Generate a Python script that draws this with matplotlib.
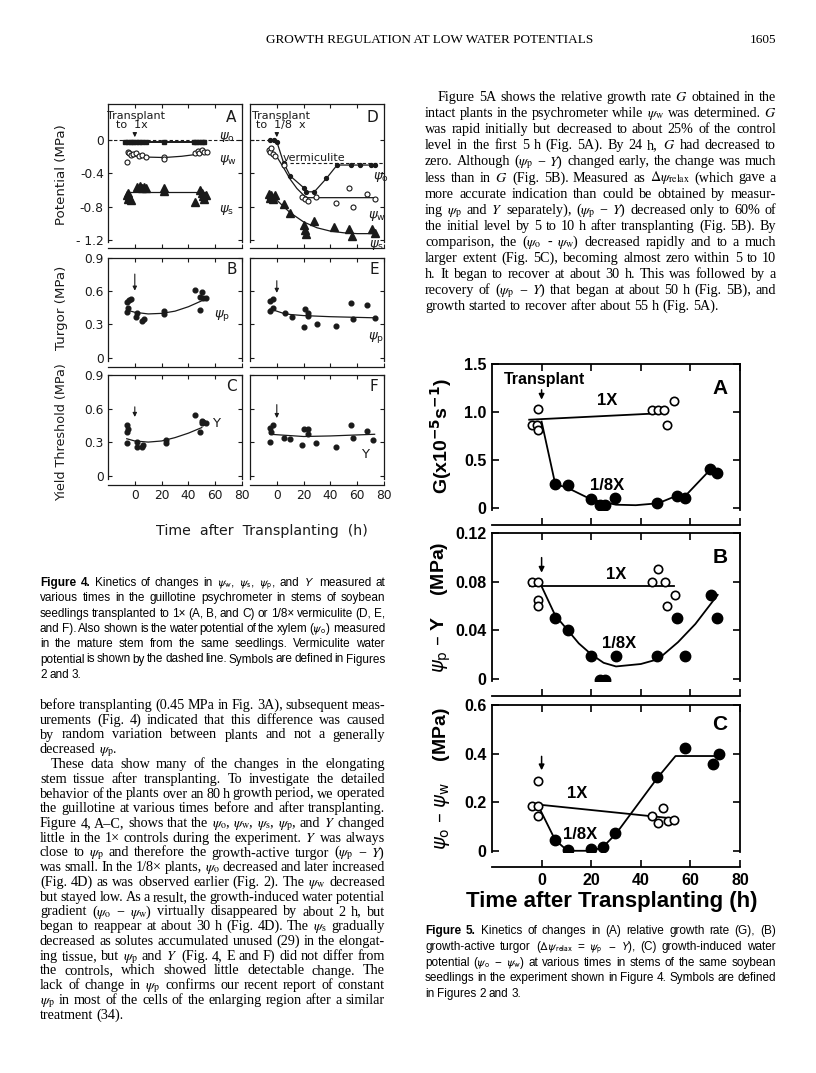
import matplotlib
matplotlib.use("Agg")
import matplotlib.pyplot as plt

W, H = 816, 1073

# ---------------- Figure 4 data (time h, value MPa) ----------------
# panel A, 1x
A_po_t = [-7, -5, -3, -1, 1, 3, 5, 8, 22, 44, 46, 48, 50, 52]
A_po_v = [-0.02, -0.02, -0.02, -0.02, -0.02, -0.02, -0.02, -0.02, -0.02, -0.02, -0.02, -0.02, -0.02, -0.02]
A_pw_t = [-6, -5, -4, -3, -1, 1, 3, 5, 8, 22, 22, 45, 47, 48, 50, 52, 54]
A_pw_v = [-0.26, -0.14, -0.16, -0.18, -0.17, -0.16, -0.19, -0.18, -0.20, -0.20, -0.23, -0.15, -0.13, -0.16, -0.12, -0.14, -0.14]
A_pw_fit_t = [-6, 0, 10, 22, 35, 45, 55]
A_pw_fit_v = [-0.17, -0.19, -0.205, -0.21, -0.195, -0.175, -0.145]
A_ps_t = [-6, -5, -5, -4, -3, 2, 4, 5, 7, 8, 22, 22, 45, 49, 50, 51, 52, 53]
A_ps_v = [-0.66, -0.70, -0.64, -0.68, -0.72, -0.56, -0.55, -0.58, -0.56, -0.57, -0.57, -0.61, -0.74, -0.60, -0.63, -0.67, -0.70, -0.66]
A_ps_fit_t = [-6, 53]
A_ps_fit_v = [-0.62, -0.62]

# panel D, 1/8x
D_po_t = [-5, -2, 0, 5, 10, 20, 22, 28, 37, 45, 55, 62, 70, 73]
D_po_v = [0.0, 0.0, -0.02, -0.27, -0.43, -0.57, -0.62, -0.62, -0.46, -0.30, -0.30, -0.30, -0.30, -0.30]
D_verm_t1 = [-20, -5]
D_verm_v1 = [0.0, 0.0]
D_verm_t2 = [10, 80]
D_verm_v2 = [-0.27, -0.27]
D_pw_t = [-6, -5, -4, -3, -1, 5, 19, 21, 23, 29, 44, 54, 57, 67, 73]
D_pw_v = [-0.12, -0.14, -0.10, -0.17, -0.19, -0.30, -0.68, -0.70, -0.73, -0.68, -0.75, -0.58, -0.80, -0.65, -0.70]
D_pw_fit_t = [-6, 0, 5, 10, 15, 20, 23, 73]
D_pw_fit_v = [-0.13, -0.20, -0.33, -0.47, -0.58, -0.66, -0.69, -0.69]
D_ps_t = [-6, -5, -4, -3, -1, 5, 10, 20, 21, 22, 28, 43, 54, 56, 71, 73]
D_ps_v = [-0.65, -0.69, -0.66, -0.70, -0.66, -0.76, -0.87, -1.02, -1.08, -1.12, -0.97, -1.04, -1.07, -1.15, -1.07, -1.11]
D_ps_fit_t = [-6, 0, 10, 20, 30, 40, 50, 60, 73]
D_ps_fit_v = [-0.66, -0.72, -0.87, -0.98, -1.05, -1.09, -1.11, -1.12, -1.12]

# turgor
B_t = [-6, -5, -6, -4, -3, 1, 2, 5, 7, 22, 22, 45, 49, 49, 50, 51, 53]
B_v = [0.41, 0.45, 0.50, 0.52, 0.53, 0.37, 0.40, 0.33, 0.35, 0.42, 0.39, 0.61, 0.43, 0.55, 0.59, 0.54, 0.54]
B_fit_t = [-6, 0, 10, 20, 30, 40, 53]
B_fit_v = [0.43, 0.41, 0.395, 0.40, 0.42, 0.46, 0.53]
E_t = [-5, -5, -3, -3, 6, 11, 20, 21, 23, 23, 30, 44, 55, 57, 67, 73]
E_v = [0.42, 0.51, 0.53, 0.45, 0.40, 0.37, 0.28, 0.44, 0.40, 0.38, 0.30, 0.29, 0.49, 0.35, 0.48, 0.36]
E_fit_t = [-5, 0, 5, 10, 20, 40, 73]
E_fit_v = [0.44, 0.42, 0.40, 0.39, 0.38, 0.37, 0.36]

# yield threshold
C_t = [-6, -5, -6, -6, 2, 2, 5, 6, 23, 23, 45, 49, 50, 50, 51, 53]
C_v = [0.29, 0.42, 0.39, 0.45, 0.30, 0.26, 0.26, 0.27, 0.32, 0.29, 0.54, 0.39, 0.49, 0.47, 0.48, 0.47]
C_fit_t = [-6, 0, 10, 20, 30, 40, 50]
C_fit_v = [0.33, 0.31, 0.30, 0.31, 0.34, 0.38, 0.43]
F_t = [-5, -3, -4, -5, 5, 10, 19, 20, 23, 23, 29, 44, 55, 57, 67, 72]
F_v = [0.43, 0.45, 0.39, 0.30, 0.34, 0.33, 0.27, 0.42, 0.42, 0.37, 0.29, 0.26, 0.45, 0.34, 0.40, 0.32]
F_fit_t = [-5, 20, 40, 73]
F_fit_v = [0.37, 0.35, 0.355, 0.37]

# ---------------- Figure 5 data ----------------
G1_t = [-1.4, -3.7, -1.8, -1.4, 44.6, 47, 49.5, 53.5, 50.5]
G1_v = [1.03, 0.87, 0.87, 0.81, 1.02, 1.02, 1.02, 1.11, 0.86]
G1_fit_t = [-5, 50]
G1_fit_v = [0.92, 0.99]
G8_t = [5.5, 10.5, 19.8, 23.6, 25.5, 29.7, 46.7, 54.6, 57.7, 68, 70.7]
G8_v = [0.25, 0.24, 0.09, 0.03, 0.03, 0.10, 0.05, 0.13, 0.11, 0.41, 0.37]
G8_fit_t = [0, 5.5, 10.5, 20, 30, 38, 47, 54.6, 57.7, 68, 70.7]
G8_fit_v = [0.90, 0.25, 0.21, 0.09, 0.035, 0.03, 0.05, 0.13, 0.12, 0.40, 0.37]

T1_t = [-3.7, -1.6, -1.6, -1.6, 44.6, 46.8, 49.8, 53.6, 50.5]
T1_v = [0.080, 0.080, 0.065, 0.060, 0.080, 0.090, 0.080, 0.069, 0.060]
T1_fit_t = [-4.8, 53.5]
T1_fit_v = [0.076, 0.076]
T8_t = [5.5, 10.5, 19.8, 23.6, 25.6, 30, 46.7, 54.6, 57.7, 68.2, 70.9]
T8_v = [0.050, 0.040, 0.019, -0.001, -0.001, 0.019, 0.019, 0.050, 0.019, 0.069, 0.050]
T8_fit_t = [0, 5.5, 10.5, 15, 20, 25, 30, 40, 47, 55, 62, 71]
T8_fit_v = [0.076, 0.052, 0.040, 0.029, 0.020, 0.013, 0.010, 0.012, 0.016, 0.030, 0.045, 0.069]

P1_t = [-1.6, -4, -1.6, -1.4, 44.6, 46.8, 49, 50.8, 53.5]
P1_v = [0.287, 0.186, 0.186, 0.145, 0.145, 0.113, 0.175, 0.124, 0.128]
P1_fit_t = [-4, 55]
P1_fit_v = [0.193, 0.131]
P8_t = [5.5, 10.5, 19.8, 24.6, 29.7, 46.7, 58, 69.2, 71.4]
P8_v = [0.044, 0.004, 0.007, 0.014, 0.072, 0.303, 0.423, 0.356, 0.397]
P8_fit_t = [-1.4, 5.5, 10.5, 20, 24.6, 30, 46.7, 54, 71.4]
P8_fit_v = [0.186, 0.044, 0.0, 0.0, 0.014, 0.07, 0.30, 0.39, 0.39]

time_ticks = [0, 20, 40, 60, 80]

# ---------------- text ----------------
header = "GROWTH REGULATION AT LOW WATER POTENTIALS"
page_no = "1605"

cap4 = [
    r"Figure 4. Kinetics of changes in $\psi_\mathrm{w}$, $\psi_\mathrm{s}$, $\psi_\mathrm{p}$, and $Y$ measured at",
    "various times in the guillotine psychrometer in stems of soybean",
    "seedlings transplanted to 1× (A, B, and C) or 1/8× vermiculite (D, E,",
    r"and F). Also shown is the water potential of the xylem ($\psi_\mathrm{o}$) measured",
    "in the mature stem from the same seedlings. Vermiculite water",
    "potential is shown by the dashed line. Symbols are defined in Figures",
    "2 and 3.|",
]
cap5 = [
    "Figure 5. Kinetics of changes in (A) relative growth rate (G), (B)",
    r"growth-active turgor ($\Delta\psi_\mathrm{relax}$ = $\psi_\mathrm{p}$ − $Y$), (C) growth-induced water",
    r"potential ($\psi_\mathrm{o}$ − $\psi_\mathrm{w}$) at various times in stems of the same soybean",
    "seedlings in the experiment shown in Figure 4. Symbols are defined",
    "in Figures 2 and 3.|",
]
left_body = [
    "before transplanting (0.45 MPa in Fig. 3A), subsequent meas-",
    "urements (Fig. 4) indicated that this difference was caused",
    "by random variation between plants and not a generally",
    r"decreased $\psi_\mathrm{p}$.|",
    ">These data show many of the changes in the elongating",
    "stem tissue after transplanting. To investigate the detailed",
    "behavior of the plants over an 80 h growth period, we operated",
    "the guillotine at various times before and after transplanting.",
    r"Figure 4, A–C, shows that the $\psi_\mathrm{o}$, $\psi_\mathrm{w}$, $\psi_\mathrm{s}$, $\psi_\mathrm{p}$, and $Y$ changed",
    r"little in the 1× controls during the experiment. $Y$ was always",
    r"close to $\psi_\mathrm{p}$ and therefore the growth-active turgor ($\psi_\mathrm{p}$ − $Y$)",
    r"was small. In the 1/8× plants, $\psi_\mathrm{o}$ decreased and later increased",
    r"(Fig. 4D) as was observed earlier (Fig. 2). The $\psi_\mathrm{w}$ decreased",
    "but stayed low. As a result, the growth-induced water potential",
    r"gradient ($\psi_\mathrm{o}$ − $\psi_\mathrm{w}$) virtually disappeared by about 2 h, but",
    r"began to reappear at about 30 h (Fig. 4D). The $\psi_\mathrm{s}$ gradually",
    "decreased as solutes accumulated unused (29) in the elongat-",
    r"ing tissue, but $\psi_\mathrm{p}$ and $Y$ (Fig. 4, E and F) did not differ from",
    "the controls, which showed little detectable change. The",
    r"lack of change in $\psi_\mathrm{p}$ confirms our recent report of constant",
    r"$\psi_\mathrm{p}$ in most of the cells of the enlarging region after a similar",
    "treatment (34).|",
]
right_body = [
    r">Figure 5A shows the relative growth rate $G$ obtained in the",
    r"intact plants in the psychrometer while $\psi_\mathrm{w}$ was determined. $G$",
    "was rapid initially but decreased to about 25% of the control",
    r"level in the first 5 h (Fig. 5A). By 24 h, $G$ had decreased to",
    r"zero. Although ($\psi_\mathrm{p}$ − $Y$) changed early, the change was much",
    r"less than in $G$ (Fig. 5B). Measured as $\Delta\psi_\mathrm{relax}$ (which gave a",
    "more accurate indication than could be obtained by measur-",
    r"ing $\psi_\mathrm{p}$ and $Y$ separately), ($\psi_\mathrm{p}$ − $Y$) decreased only to 60% of",
    "the initial level by 5 to 10 h after transplanting (Fig. 5B). By",
    r"comparison, the ($\psi_\mathrm{o}$ - $\psi_\mathrm{w}$) decreased rapidly and to a much",
    "larger extent (Fig. 5C), becoming almost zero within 5 to 10",
    "h. It began to recover at about 30 h. This was followed by a",
    r"recovery of ($\psi_\mathrm{p}$ − $Y$) that began at about 50 h (Fig. 5B), and",
    "growth started to recover after about 55 h (Fig. 5A).|",
]

fig = plt.figure(figsize=(W / 100, H / 100), dpi=100)
fig.patch.set_facecolor("white")
rend = fig.canvas.get_renderer()


def axbox(l, t, r, b):
    return fig.add_axes([l / W, 1 - b / H, (r - l) / W, (b - t) / H])


def block(lines, x0, y0, width, lead, size, family, mfam, indent=11, nbold=0, mingap=2.2):
    # justified text: one Text per word, gaps stretched so the line fills the column
    for i, s in enumerate(lines):
        last = s.endswith("|")
        s = s.rstrip("|")
        x = x0
        if s.startswith(">"):
            s = s[1:]
            x = x0 + indent
        words = s.split(" ")
        fs = size
        while True:
            ts = []
            for k, w in enumerate(words):
                bold = (i == 0 and k < nbold)
                ts.append(fig.text(0, 1 - (y0 + i * lead) / H, w, fontsize=fs,
                                   family=family, math_fontfamily=mfam,
                                   fontweight="bold" if bold else "normal",
                                   ha="left", va="baseline"))
            ws = [t.get_window_extent(rend).width for t in ts]
            sp = fs * 100 / 72 * 0.25
            if last or len(ws) < 2:
                gap = sp
                break
            gap = (x0 + width - x - sum(ws)) / (len(ws) - 1)
            if gap >= mingap:
                break
            for t in ts:
                t.remove()
            fs *= 0.99
        for t, w in zip(ts, ws):
            t.set_x(x / W)
            x += w + gap


# header
fig.text(430 / W, 1 - 40 / H, header, fontsize=9.5, family="Liberation Serif",
         ha="center", va="center")
fig.text(776 / W, 1 - 40 / H, page_no, fontsize=9.5, family="Liberation Serif",
         ha="right", va="center")

# ---------------- Figure 4 ----------------
f4 = "DejaVu Sans"
ink = "#1a1a1a"


def style4(ax, ylim, yt, ytl, xlab):
    ax.set_xlim(-20, 80)
    ax.set_ylim(*ylim)
    ax.set_xticks(time_ticks)
    ax.set_yticks(yt)
    for sp in ax.spines.values():
        sp.set_linewidth(0.9)
        sp.set_color(ink)
    ax.spines["bottom"].set_position(("outward", 4))
    ax.tick_params(direction="in", top=True, right=True, length=3, width=0.8,
                   color=ink, labelsize=8.8, labelcolor=ink, pad=3)
    if ytl is None:
        ax.set_yticklabels([])
    else:
        ax.set_yticklabels(ytl, family=f4)
    if xlab:
        ax.set_xticklabels([str(v) for v in time_ticks], family=f4)
    else:
        ax.set_xticklabels([])


axA = axbox(108, 104, 242, 242)
axD = axbox(250, 104, 384, 242)
axB = axbox(108, 258, 242, 361)
axE = axbox(250, 258, 384, 361)
axC = axbox(108, 375, 242, 479)
axF = axbox(250, 375, 384, 479)

pot_ticks = [0, -0.4, -0.8, -1.2]
pot_lab = ["0", "-0.4", "-0.8", "- 1.2"]
tur_ticks = [0, 0.3, 0.6, 0.9]
tur_lab = ["0", "0.3", "0.6", "0.9"]
style4(axA, (-1.22, 0.43), pot_ticks, pot_lab, False)
style4(axD, (-1.22, 0.43), pot_ticks, None, False)
style4(axB, (-0.03, 0.9), tur_ticks, tur_lab, False)
style4(axE, (-0.03, 0.9), tur_ticks, None, False)
style4(axC, (-0.03, 0.9), tur_ticks, tur_lab, True)
style4(axF, (-0.03, 0.9), tur_ticks, None, True)

mk = dict(color=ink, ls="none")
arr4 = dict(arrowstyle="-|>", color=ink, lw=0.8, mutation_scale=6)
# A
axA.axhline(0, color=ink, lw=0.8, ls=(0, (3, 2)))
axA.plot(A_po_t, A_po_v, color=ink, lw=1.4)
axA.plot(A_po_t, A_po_v, marker="s", ms=2.8, **mk)
axA.plot(A_pw_fit_t, A_pw_fit_v, color=ink, lw=0.9)
axA.plot(A_pw_t, A_pw_v, marker="o", ms=3.6, mfc="white", mew=0.8, **mk)
axA.plot(A_ps_fit_t, A_ps_fit_v, color=ink, lw=0.9)
axA.plot(A_ps_t, A_ps_v, marker="^", ms=5.5, **mk)
axA.annotate("", xy=(0, 0.0), xytext=(0, 0.12), arrowprops=arr4)
axA.text(1, 0.285, "Transplant", fontsize=8, family=f4, ha="center", va="center", color=ink)
axA.text(-2, 0.18, "to  1x", fontsize=8, family=f4, ha="center", va="center", color=ink)
axA.text(76, 0.27, "A", fontsize=11, family=f4, ha="right", va="center", color=ink)
axA.text(63, 0.03, r"$\psi_\mathrm{o}$", fontsize=9.5, ha="left", va="center", color=ink)
axA.text(63, -0.24, r"$\psi_\mathrm{w}$", fontsize=9.5, ha="left", va="center", color=ink)
axA.text(63, -0.84, r"$\psi_\mathrm{s}$", fontsize=9.5, ha="left", va="center", color=ink)

# D
axD.plot(D_verm_t1, D_verm_v1, color=ink, lw=0.8, ls=(0, (3, 2)))
axD.plot(D_verm_t2, D_verm_v2, color=ink, lw=0.8, ls=(0, (3, 2)))
axD.plot(D_po_t, D_po_v, color=ink, lw=0.9, marker="o", ms=2.8)
axD.plot(D_pw_fit_t, D_pw_fit_v, color=ink, lw=0.9)
axD.plot(D_pw_t, D_pw_v, marker="o", ms=3.6, mfc="white", mew=0.8, **mk)
axD.plot(D_ps_fit_t, D_ps_fit_v, color=ink, lw=0.9)
axD.plot(D_ps_t, D_ps_v, marker="^", ms=5.5, **mk)
axD.annotate("", xy=(0, 0.0), xytext=(0, 0.12), arrowprops=arr4)
axD.text(3, 0.285, "Transplant", fontsize=8, family=f4, ha="center", va="center", color=ink)
axD.text(3, 0.18, "to  1/8  x", fontsize=8, family=f4, ha="center", va="center", color=ink)
axD.text(28, -0.21, "vermiculite", fontsize=8, family=f4, ha="center", va="center", color=ink)
axD.text(76, 0.27, "D", fontsize=11, family=f4, ha="right", va="center", color=ink)
axD.text(72, -0.44, r"$\psi_\mathrm{o}$", fontsize=9.5, ha="left", va="center", color=ink)
axD.text(68, -0.91, r"$\psi_\mathrm{w}$", fontsize=9.5, ha="left", va="center", color=ink)
axD.text(69, -1.25, r"$\psi_\mathrm{s}$", fontsize=9.5, ha="left", va="center", color=ink)

# B, E, C, F
for ax, t, v, ft, fv, lab, lp, arr, let in [
        (axB, B_t, B_v, B_fit_t, B_fit_v, r"$\psi_\mathrm{p}$", (59, 0.38), (0.78, 0.58), "B"),
        (axE, E_t, E_v, E_fit_t, E_fit_v, r"$\psi_\mathrm{p}$", (68, 0.18), (0.72, 0.56), "E"),
        (axC, C_t, C_v, C_fit_t, C_fit_v, "Y", (58, 0.47), (0.64, 0.50), "C"),
        (axF, F_t, F_v, F_fit_t, F_fit_v, "Y", (63, 0.19), (0.66, 0.49), "F")]:
    ax.plot(ft, fv, color=ink, lw=0.9)
    ax.plot(t, v, marker="o", ms=3.4, **mk)
    ax.annotate("", xy=(0, arr[1]), xytext=(0, arr[0]), arrowprops=arr4)
    ax.text(lp[0], lp[1], lab, fontsize=9.5, family=f4, ha="left", va="center", color=ink)
    ax.text(76, 0.8, let, fontsize=11, family=f4, ha="right", va="center", color=ink)

fig.text(62 / W, 1 - 175 / H, "Potential (MPa)", rotation=90, fontsize=9.6, family=f4,
         ha="center", va="center", color=ink)
fig.text(62 / W, 1 - 308 / H, "Turgor (MPa)", rotation=90, fontsize=9.6, family=f4,
         ha="center", va="center", color=ink)
fig.text(62 / W, 1 - 432 / H, "Yield Threshold (MPa)", rotation=90, fontsize=9.2, family=f4,
         ha="center", va="center", color=ink)
fig.text(262 / W, 1 - 531 / H, "Time  after  Transplanting  (h)", fontsize=10.2, family=f4,
         ha="center", va="center", color=ink)

# ---------------- Figure 5 ----------------
f5 = "Liberation Sans"


def style5(ax, ylim, yt, ytl, xlab):
    ax.set_xlim(-20, 80)
    ax.set_ylim(*ylim)
    ax.set_xticks(time_ticks)
    ax.set_yticks(yt)
    for sp in ax.spines.values():
        sp.set_linewidth(1.3)
        sp.set_color("black")
    ax.spines["bottom"].set_position(("outward", 11))
    ax.tick_params(direction="in", top=True, right=True, length=5, width=1.2,
                   labelsize=11.5, pad=4)
    ax.set_yticklabels(ytl, family=f5, fontweight="bold")
    if xlab:
        ax.set_xticklabels([str(v) for v in time_ticks], family=f5, fontweight="bold")
    else:
        ax.set_xticklabels([])


ax5a = axbox(492, 364, 740, 510)
ax5b = axbox(492, 533, 740, 681)
ax5c = axbox(492, 705, 740, 852)
style5(ax5a, (-0.02, 1.5), [0, 0.5, 1.0, 1.5], ["0", "0.5", "1.0", "1.5"], False)
style5(ax5b, (-0.002, 0.12), [0, 0.04, 0.08, 0.12], ["0", "0.04", "0.08", "0.12"], False)
style5(ax5c, (-0.005, 0.6), [0, 0.2, 0.4, 0.6], ["0", "0.2", "0.4", "0.6"], True)

open5 = dict(marker="o", ms=6, mfc="white", mec="black", mew=1.2, ls="none")
fill5 = dict(marker="o", ms=7.5, color="black", ls="none")
for ax, t1, v1, ft1, fv1, t8, v8, ft8, fv8 in [
        (ax5a, G1_t, G1_v, G1_fit_t, G1_fit_v, G8_t, G8_v, G8_fit_t, G8_fit_v),
        (ax5b, T1_t, T1_v, T1_fit_t, T1_fit_v, T8_t, T8_v, T8_fit_t, T8_fit_v),
        (ax5c, P1_t, P1_v, P1_fit_t, P1_fit_v, P8_t, P8_v, P8_fit_t, P8_fit_v)]:
    ax.plot(ft1, fv1, color="black", lw=1.3, zorder=2)
    ax.plot(ft8, fv8, color="black", lw=1.3, zorder=2)
    ax.plot(t1, v1, zorder=3, **open5)
    ax.plot(t8, v8, zorder=3, **fill5)

arr5 = dict(arrowstyle="-|>", color="black", lw=1.1, mutation_scale=8)
b5 = dict(family=f5, fontweight="bold", ha="center", va="center")
ax5a.text(1, 1.34, "Transplant", fontsize=11.5, **b5)
ax5a.annotate("", xy=(0, 1.1), xytext=(0, 1.26), arrowprops=arr5)
ax5a.text(26.6, 1.12, "1X", fontsize=12, **b5)
ax5a.text(26.6, 0.24, "1/8X", fontsize=12, **b5)
ax5a.text(72, 1.25, "A", fontsize=15, **b5)

ax5b.annotate("", xy=(0, 0.085), xytext=(0, 0.102), arrowprops=arr5)
ax5b.text(30, 0.086, "1X", fontsize=12, **b5)
ax5b.text(31.4, 0.029, "1/8X", fontsize=12, **b5)
ax5b.text(72, 0.10, "B", fontsize=15, **b5)

ax5c.annotate("", xy=(0, 0.32), xytext=(0, 0.40), arrowprops=arr5)
ax5c.text(14.3, 0.237, "1X", fontsize=12, **b5)
ax5c.text(15.7, 0.065, "1/8X", fontsize=12, **b5)
ax5c.text(72, 0.52, "C", fontsize=15, **b5)

fig.text(441 / W, 1 - 436 / H, r"G(x10$^{\mathbf{-5}}$s$^{\mathbf{-1}}$)", rotation=90,
         fontsize=14, **b5)
fig.text(441 / W, 1 - 607 / H, r"$\psi_\mathrm{p}$ – Y    (MPa)", rotation=90,
         fontsize=14, **b5)
fig.text(441 / W, 1 - 779 / H, r"$\psi_\mathrm{o}$ – $\psi_\mathrm{w}$    (MPa)", rotation=90,
         fontsize=14, **b5)
fig.text(612 / W, 1 - 902 / H, "Time after Transplanting (h)", fontsize=16, **b5)

# ---------------- captions and body text ----------------
block(cap4, 40, 586, 345, 15.3, 8.5, "Liberation Sans", "stixsans", nbold=2, mingap=1.8)
block(cap5, 425, 934, 351, 15.8, 8.5, "Liberation Sans", "stixsans", nbold=2, mingap=1.8)
block(left_body, 40, 709, 345, 14.75, 10.2, "Liberation Serif", "stix", indent=11)
block(right_body, 425, 101, 351, 16.1, 10.2, "Liberation Serif", "stix", indent=13)

fig.savefig("out.png", dpi=100, facecolor="white")
